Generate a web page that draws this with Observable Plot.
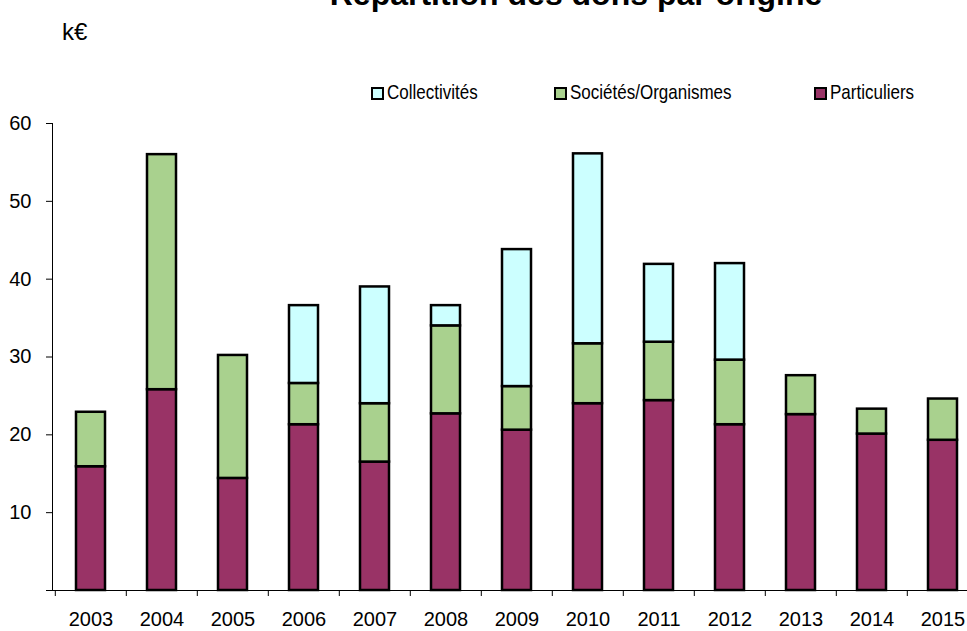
<!DOCTYPE html>
<html>
<head>
<meta charset="utf-8">
<script src="https://cdn.jsdelivr.net/npm/d3@7"></script>
<script src="https://cdn.jsdelivr.net/npm/@observablehq/plot@0.6"></script>
<style>
  html, body { margin: 0; padding: 0; background: #fff; overflow: hidden; }
  #wrap { position: relative; width: 967px; height: 631px; font-family: "Liberation Sans", Arial, sans-serif; color: #000; }
  #title { position: absolute; left: 0; width: 1152px; text-align: center; top: -22px; font-size: 32px; font-weight: bold; line-height: 32px; white-space: nowrap; }
  #unit { position: absolute; left: 62px; top: 20px; font-size: 24px; line-height: 24px; }
  #legend { position: absolute; left: 0; top: 83px; width: 967px; height: 20px; font-size: 17px; line-height: 20px; }
  .item { position: absolute; top: 0; display: flex; align-items: center; gap: 3px; }
  .item span.t { display: inline-block; transform: scaleY(1.2); transform-origin: center; }
  .sw { width: 9px; height: 9px; border: 2px solid #000; }
  #chart { position: absolute; left: 0; top: 0; }
</style>
</head>
<body>
<div id="wrap">
  <div id="chart"></div>
  <div id="title">Répartition des dons par origine</div>
  <div id="unit">k€</div>
  <div id="legend"></div>
</div>
<script>
const years = ["2003","2004","2005","2006","2007","2008","2009","2010","2011","2012","2013","2014","2015"];
const particuliers  = [15.9, 25.8, 14.4, 21.3, 16.5, 22.7, 20.6, 24.0, 24.4, 21.3, 22.6, 20.1, 19.3];
const societes      = [7.0, 30.2, 15.8, 5.3, 7.5, 11.3, 5.6, 7.7, 7.5, 8.3, 5.0, 3.2, 5.3];
const collectivites = [0, 0, 0, 10.0, 15.0, 2.6, 17.6, 24.4, 10.0, 12.4, 0, 0, 0];
const origins = ["Particuliers", "Sociétés/Organismes", "Collectivités"];
const colors  = ["#993366", "#A9D18E", "#CCFFFF"];
const legendOrder = ["Collectivités", "Sociétés/Organismes", "Particuliers"];
const legendLeft = [371, 554, 814];
const yTicks = [0, 10, 20, 30, 40, 50, 60];

const series = [particuliers, societes, collectivites];
const data = [];
years.forEach((y, i) => {
  origins.forEach((o, k) => {
    if (series[k][i] > 0) data.push({year: y, origin: o, value: series[k][i]});
  });
});

const xRange = [52, 980];
const step = (xRange[1] - xRange[0]) / years.length;

const chart = Plot.plot({
  width: 967,
  height: 631,
  marginLeft: 52,
  marginRight: 0,
  marginTop: 123,
  marginBottom: 41,
  style: {fontFamily: "'Liberation Sans', Arial, sans-serif", color: "#000", background: "transparent"},
  x: {type: "band", domain: years, range: xRange, paddingInner: 0.594, paddingOuter: 0.297},
  y: {domain: [0, 60]},
  color: {domain: origins, range: colors},
  marks: [
    Plot.barY(data, {x: "year", y: "value", fill: "origin", order: origins, stroke: "#000", strokeWidth: 2.5}),
    Plot.frame({anchor: "left", stroke: "#000"}),
    Plot.ruleY([0], {stroke: "#000"}),
    Plot.axisY({ticks: yTicks, tickSize: 6, tickPadding: 15, tickFormat: d => d === 0 ? "" : String(d), fontSize: 20, label: null}),
    Plot.axisX({tickSize: 6, tickFormat: () => "", dx: -step / 2, label: null}),
    Plot.axisX({tickSize: 0, tickPadding: 21, fontSize: 20, label: null, ariaLabel: "x-labels"})
  ]
});
document.getElementById("chart").appendChild(chart);

// the reference's year labels are drawn in a taller (vertically stretched) face
chart.querySelectorAll('g[aria-label="x-labels"] text').forEach(t => {
  const tr = t.getAttribute("transform") || "";
  t.setAttribute("transform", tr + " scale(1,1.25)");
});

const legend = document.getElementById("legend");
legendOrder.forEach((name, i) => {
  const item = document.createElement("div");
  item.className = "item";
  item.style.left = legendLeft[i] + "px";
  const sw = document.createElement("span");
  sw.className = "sw";
  sw.style.background = colors[origins.indexOf(name)];
  const t = document.createElement("span");
  t.className = "t";
  t.textContent = name;
  item.appendChild(sw);
  item.appendChild(t);
  legend.appendChild(item);
});
</script>
</body>
</html>
